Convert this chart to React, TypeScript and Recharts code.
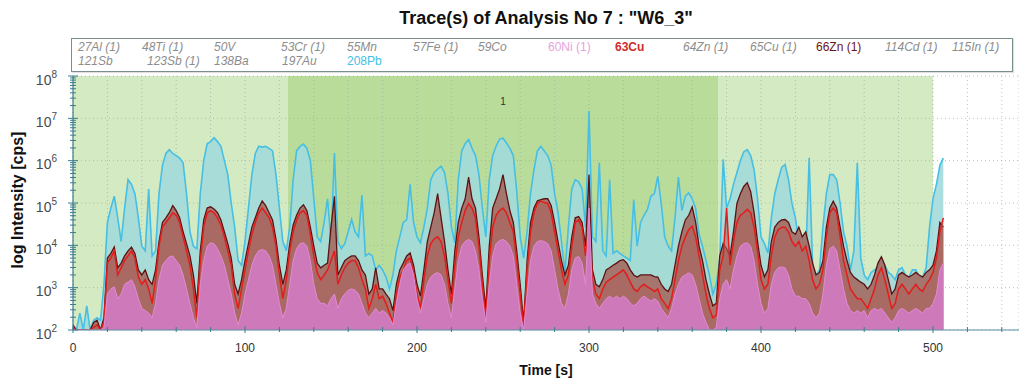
import React from 'react';
import { ComposedChart, Area, XAxis, YAxis, CartesianGrid, ReferenceArea, Label } from 'recharts';

// Sampling times [s]
const timeS = [
  0, 2, 4, 6, 8, 10, 12, 14, 16, 18,
  20, 22, 24, 26, 28, 30, 32, 34, 36, 38,
  40, 42, 44, 46, 48, 50, 52, 54, 56, 58,
  60, 62, 64, 66, 68, 70, 72, 74, 76, 78,
  80, 82, 84, 86, 88, 90, 92, 94, 96, 98,
  100, 102, 104, 106, 108, 110, 112, 114, 116, 118,
  120, 122, 124, 126, 128, 130, 132, 134, 136, 138,
  140, 142, 144, 146, 148, 150, 152, 154, 156, 158,
  160, 162, 164, 166, 168, 170, 172, 174, 176, 178,
  180, 182, 184, 186, 188, 190, 192, 194, 196, 198,
  200, 202, 204, 206, 208, 210, 212, 214, 216, 218,
  220, 222, 224, 226, 228, 230, 232, 234, 236, 238,
  240, 242, 244, 246, 248, 250, 252, 254, 256, 258,
  260, 262, 264, 266, 268, 270, 272, 274, 276, 278,
  280, 282, 284, 286, 288, 290, 292, 294, 296, 298,
  300, 302, 304, 306, 308, 310, 312, 314, 316, 318,
  320, 322, 324, 326, 328, 330, 332, 334, 336, 338,
  340, 342, 344, 346, 348, 350, 352, 354, 356, 358,
  360, 362, 364, 366, 368, 370, 372, 374, 376, 378,
  380, 382, 384, 386, 388, 390, 392, 394, 396, 398,
  400, 402, 404, 406, 408, 410, 412, 414, 416, 418,
  420, 422, 424, 426, 428, 430, 432, 434, 436, 438,
  440, 442, 444, 446, 448, 450, 452, 454, 456, 458,
  460, 462, 464, 466, 468, 470, 472, 474, 476, 478,
  480, 482, 484, 486, 488, 490, 492, 494, 496, 498,
  500, 502, 504, 506,
];

// Intensities, as log10(cps)
const pb208Log = [
  2.0, 2.0, 2.40, 2.0, 2.57, 2.0, 2.23, 2.29, 2.23, 3.08,
  4.54, 4.88, 5.16, 4.65, 4.09, 4.88, 5.55, 5.44, 5.22, 4.65,
  3.98, 3.87, 5.33, 3.75, 3.87, 5.22, 5.89, 6.17, 6.26, 6.17,
  6.12, 6.06, 5.95, 5.22, 4.32, 3.98, 3.92, 5.22, 6.00, 6.40,
  6.45, 6.54, 6.45, 6.34, 6.00, 5.67, 4.99, 4.43, 3.64, 3.53,
  4.09, 4.88, 5.67, 6.17, 6.34, 6.32, 6.34, 6.29, 6.23, 5.67,
  4.88, 4.09, 3.87, 4.43, 5.55, 6.23, 6.34, 6.39, 6.29, 6.00,
  5.10, 4.20, 4.09, 4.54, 5.10, 4.09, 6.18, 4.09, 3.92, 4.04,
  4.32, 4.61, 4.32, 4.20, 5.19, 3.75, 3.81, 3.75, 3.42, 3.53,
  3.42, 3.25, 2.97, 3.30, 3.87, 4.20, 4.54, 4.60, 5.44, 4.54,
  4.20, 4.06, 4.43, 4.88, 5.55, 5.72, 5.80, 5.87, 5.72, 5.22,
  4.43, 4.06, 5.55, 6.23, 6.40, 6.50, 6.29, 6.12, 5.67, 4.88,
  4.20, 5.55, 6.12, 6.34, 6.51, 6.53, 6.42, 6.29, 6.12, 5.27,
  4.20, 3.70, 4.32, 5.22, 5.78, 6.23, 6.34, 6.23, 6.12, 5.89,
  5.22, 4.77, 4.09, 3.36, 4.43, 5.33, 5.55, 5.50, 5.33, 4.43,
  7.17, 4.20, 4.09, 5.95, 3.87, 3.75, 5.55, 3.81, 3.87, 3.81,
  3.75, 3.70, 3.64, 5.08, 3.98, 4.54, 4.71, 4.85, 5.16, 5.22,
  5.63, 4.99, 4.20, 3.98, 3.87, 4.65, 5.61, 4.82, 5.16, 5.24,
  5.10, 4.88, 4.26, 3.98, 3.64, 3.30, 2.85, 3.08, 3.64, 6.03,
  4.88, 5.10, 5.44, 5.72, 6.00, 6.21, 6.26, 6.12, 5.78, 5.10,
  4.20, 4.04, 3.82, 4.65, 5.22, 5.55, 5.84, 5.91, 5.55, 4.99,
  4.65, 4.09, 4.20, 3.70, 6.07, 3.53, 3.30, 3.42, 4.43, 5.22,
  5.67, 5.67, 5.55, 4.99, 4.32, 3.98, 3.42, 3.87, 5.95, 3.70,
  3.30, 3.19, 3.36, 3.42, 3.47, 3.70, 3.53, 3.36, 3.30, 3.19,
  3.42, 3.47, 3.30, 3.25, 3.42, 3.42, 3.25, 3.25, 3.47, 4.43,
  5.10, 5.44, 5.89, 6.06,
];

const zn66Log = [
  2.12, 2.0, 2.0, 2.0, 2.0, 2.0, 2.18, 2.23, 2.0, 2.29,
  3.70, 3.81, 3.96, 3.47, 3.58, 3.75, 3.87, 3.96, 3.81, 3.42,
  3.30, 3.42, 3.19, 3.08, 3.42, 4.09, 4.54, 4.65, 4.77, 4.94,
  4.82, 4.65, 4.32, 4.04, 3.75, 3.30, 2.63, 3.87, 4.60, 4.88,
  4.91, 4.86, 4.77, 4.60, 4.32, 4.04, 3.70, 3.08, 2.85, 3.19,
  3.64, 4.04, 4.43, 4.65, 4.88, 5.05, 4.94, 4.77, 4.60, 4.15,
  3.53, 3.08, 3.42, 4.04, 4.48, 4.71, 4.88, 4.96, 4.82, 4.43,
  3.98, 3.58, 3.47, 3.53, 3.58, 4.43, 5.16, 3.30, 3.47, 3.64,
  3.70, 3.75, 3.75, 3.64, 3.42, 3.30, 2.85, 2.97, 3.47, 2.97,
  2.97, 2.85, 2.74, 2.46, 3.08, 3.42, 3.58, 3.75, 3.82, 3.53,
  3.08, 2.80, 3.42, 4.09, 4.43, 4.77, 5.22, 4.65, 4.09, 3.42,
  2.85, 3.87, 4.54, 4.88, 5.10, 5.61, 5.10, 4.88, 4.20, 3.30,
  2.51, 3.98, 4.88, 5.10, 5.33, 5.67, 5.22, 4.82, 4.54, 3.87,
  3.08, 2.18, 3.64, 4.54, 4.88, 5.05, 5.08, 5.10, 5.10, 4.94,
  4.54, 4.09, 3.64, 3.30, 3.53, 4.20, 4.65, 4.68, 4.54, 3.98,
  5.67, 3.42, 3.08, 3.02, 3.19, 3.42, 3.47, 3.53, 3.58, 3.64,
  3.66, 3.58, 3.42, 3.30, 3.25, 3.30, 3.30, 3.30, 3.30, 3.26,
  3.25, 3.08, 2.97, 2.91, 3.08, 3.53, 3.98, 4.32, 4.60, 4.71,
  4.91, 4.54, 3.98, 3.64, 3.19, 2.85, 2.57, 2.63, 3.75, 4.04,
  3.92, 3.75, 4.32, 4.99, 5.22, 5.39, 5.48, 5.27, 4.77, 4.09,
  3.53, 3.26, 3.42, 4.09, 4.43, 4.54, 4.60, 4.61, 4.54, 4.32,
  4.26, 4.43, 4.20, 4.32, 3.98, 3.58, 3.30, 3.36, 3.64, 4.43,
  4.88, 5.04, 4.88, 4.43, 3.98, 3.64, 3.36, 3.25, 3.19, 3.13,
  3.08, 2.97, 3.08, 3.30, 3.58, 3.73, 3.53, 3.19, 2.85, 2.97,
  3.30, 3.36, 3.30, 3.25, 3.30, 3.36, 3.30, 3.25, 3.36, 3.42,
  3.53, 3.87, 4.54, 4.43,
];

const cu63Log = [
  2.06, 2.0, 2.0, 2.0, 2.0, 2.0, 2.06, 2.12, 2.0, 2.18,
  3.58, 3.70, 3.87, 3.30, 3.47, 3.64, 3.75, 3.87, 3.70, 3.25,
  3.08, 3.19, 2.97, 2.63, 3.19, 3.98, 4.43, 4.54, 4.65, 4.77,
  4.71, 4.54, 4.20, 3.87, 3.53, 2.97, 2.29, 3.64, 4.43, 4.77,
  4.82, 4.77, 4.65, 4.48, 4.20, 3.87, 3.53, 2.85, 2.51, 2.97,
  3.42, 3.87, 4.26, 4.54, 4.77, 4.88, 4.77, 4.65, 4.43, 3.98,
  3.30, 2.74, 3.19, 3.87, 4.32, 4.60, 4.77, 4.82, 4.71, 4.26,
  3.75, 3.36, 3.19, 3.30, 3.42, 3.64, 3.87, 3.08, 3.30, 3.47,
  3.58, 3.64, 3.64, 3.47, 3.19, 2.97, 2.51, 2.74, 3.08, 2.74,
  2.80, 2.63, 2.40, 2.18, 2.85, 3.25, 3.42, 3.64, 3.70, 3.36,
  2.85, 2.51, 3.19, 3.75, 4.04, 4.15, 4.20, 4.09, 3.75, 3.19,
  2.63, 3.53, 4.20, 4.54, 4.82, 4.99, 4.88, 4.65, 3.98, 3.08,
  2.29, 3.64, 4.43, 4.71, 4.82, 4.88, 4.77, 4.54, 4.32, 3.64,
  2.85, 2.06, 3.42, 4.32, 4.77, 4.99, 5.05, 5.01, 4.99, 4.77,
  4.32, 3.87, 3.42, 3.08, 3.30, 3.98, 4.54, 4.60, 4.43, 3.75,
  4.43, 3.19, 2.85, 2.74, 2.97, 3.13, 3.19, 3.25, 3.30, 3.36,
  3.42, 3.30, 3.13, 2.97, 2.91, 3.02, 3.08, 3.02, 2.97, 2.91,
  2.97, 2.74, 2.63, 2.51, 2.74, 3.19, 3.64, 3.98, 4.20, 4.37,
  4.45, 4.20, 3.75, 3.30, 2.85, 2.51, 2.29, 2.35, 3.42, 3.75,
  4.88, 3.53, 4.09, 4.54, 4.71, 4.77, 4.85, 4.77, 4.43, 3.87,
  3.19, 2.97, 3.08, 3.75, 4.20, 4.37, 4.43, 4.43, 4.32, 4.09,
  3.98, 4.09, 3.87, 3.98, 3.64, 3.19, 2.97, 3.08, 3.42, 4.20,
  4.77, 4.88, 4.77, 4.20, 3.64, 3.30, 2.97, 2.85, 2.74, 2.74,
  2.63, 2.51, 2.74, 2.97, 3.30, 3.47, 3.19, 2.85, 2.51, 2.63,
  2.97, 3.08, 2.97, 2.85, 2.97, 3.08, 2.97, 2.91, 3.08, 3.19,
  3.36, 3.70, 4.32, 4.65,
];

const ni60Log = [
  2.0, 2.0, 2.0, 2.0, 2.0, 2.0, 2.0, 2.0, 2.0, 2.06,
  2.85, 2.97, 3.02, 2.74, 2.85, 3.08, 3.13, 3.19, 3.02, 2.74,
  2.51, 2.46, 2.40, 2.29, 2.63, 3.19, 3.53, 3.64, 3.73, 3.75,
  3.64, 3.53, 3.30, 2.97, 2.63, 2.29, 2.06, 3.08, 3.64, 3.98,
  4.06, 4.04, 3.92, 3.75, 3.53, 3.19, 2.85, 2.40, 2.12, 2.40,
  2.85, 3.19, 3.53, 3.75, 3.87, 3.90, 3.87, 3.75, 3.53, 3.08,
  2.63, 2.29, 2.51, 3.08, 3.64, 3.92, 4.04, 4.06, 3.98, 3.64,
  3.08, 2.74, 2.63, 2.63, 2.57, 2.74, 2.85, 2.51, 2.74, 2.85,
  2.94, 2.97, 2.94, 2.85, 2.63, 2.40, 2.29, 2.40, 2.51, 2.40,
  2.46, 2.40, 2.29, 2.12, 2.63, 3.08, 3.42, 3.53, 3.58, 3.30,
  2.74, 2.40, 2.74, 3.08, 3.25, 3.32, 3.36, 3.30, 3.08, 2.63,
  2.29, 2.97, 3.64, 3.98, 4.09, 4.14, 4.09, 3.87, 3.42, 2.74,
  2.18, 3.08, 3.75, 4.04, 4.11, 4.14, 4.09, 3.98, 3.75, 3.08,
  2.40, 2.0, 2.85, 3.64, 3.98, 4.09, 4.11, 4.09, 4.04, 3.87,
  3.42, 2.97, 2.63, 2.51, 2.85, 3.42, 3.70, 3.74, 3.58, 3.08,
  4.88, 2.85, 2.63, 2.51, 2.63, 2.74, 2.80, 2.74, 2.80, 2.74,
  2.80, 2.74, 2.63, 2.57, 2.63, 2.74, 2.80, 2.74, 2.68, 2.74,
  2.68, 2.51, 2.40, 2.29, 2.51, 2.85, 3.08, 3.25, 3.30, 3.35,
  3.30, 3.08, 2.74, 2.40, 2.18, 2.01, 2.0, 2.06, 2.74, 3.08,
  3.19, 2.97, 3.42, 3.75, 3.98, 4.04, 4.06, 3.98, 3.64, 3.08,
  2.63, 2.40, 2.51, 3.08, 3.36, 3.47, 3.49, 3.47, 3.30, 2.97,
  2.80, 2.80, 2.74, 2.74, 2.63, 2.40, 2.29, 2.40, 2.85, 3.53,
  3.92, 3.98, 3.87, 3.42, 2.97, 2.63, 2.46, 2.40, 2.46, 2.40,
  2.46, 2.29, 2.46, 2.51, 2.46, 2.51, 2.40, 2.29, 2.18, 2.29,
  2.46, 2.51, 2.46, 2.40, 2.46, 2.51, 2.46, 2.40, 2.51, 2.51,
  2.63, 2.85, 3.42, 3.58,
];

// Axis ticks
const yMajorTicks = [1e2, 1e3, 1e4, 1e5, 1e6, 1e7, 1e8];
const yMinorFactors = [2, 3, 4, 5, 6, 7, 8, 9];
const xTicks = [0, 20, 40, 60, 80, 100, 120, 140, 160, 180, 200, 220, 240, 260, 280, 300, 320, 340, 360, 380, 400, 420, 440, 460, 480, 500, 520, 540];
const xLabels = [0, 100, 200, 300, 400, 500];

// Signal regions [s]
const gasRegion = [0, 500];
const sampleRegion = [125, 375];
const sampleLabel = '1';

// Legend
const legendRow1 = ['27Al (1)', '48Ti (1)', '50V', '53Cr (1)', '55Mn', '57Fe (1)', '59Co', '60Ni (1)', '63Cu', '64Zn (1)', '65Cu (1)', '66Zn (1)', '114Cd (1)', '115In (1)'];
const legendRow2 = ['121Sb', '123Sb (1)', '138Ba', '197Au', '208Pb'];
const legendX1 = [78, 142, 214, 281, 347, 413, 478, 548, 615, 683, 750, 816, 885, 952];
const legendX2 = [78, 147, 214, 282, 347];
const activeStyle: Record<string, React.CSSProperties> = {
  '60Ni (1)': { color: '#e6a3d9', fontStyle: 'normal' },
  '63Cu': { color: '#cf2d2d', fontStyle: 'normal', fontWeight: 600 },
  '66Zn (1)': { color: '#6b1414', fontStyle: 'normal' },
  '208Pb': { color: '#3fc1e4', fontStyle: 'normal' },
};

const yTicks = [
  ...yMajorTicks,
  ...yMajorTicks.slice(0, -1).flatMap((d) => yMinorFactors.map((f) => f * d)),
].sort((a, b) => a - b);

const data = timeS.map((t, i) => ({
  t,
  pb208: Math.pow(10, pb208Log[i]),
  zn66: Math.pow(10, zn66Log[i]),
  cu63: Math.pow(10, cu63Log[i]),
  ni60: Math.pow(10, ni60Log[i]),
}));

const AXIS = '#3b7c8c';

const YTick = (props: any) => {
  const { x, y, payload } = props;
  const v = payload.value as number;
  const exp = Math.round(Math.log10(v));
  const major = Math.abs(v - Math.pow(10, exp)) < v * 1e-6;
  const len = major ? 5 : 3;
  return (
    <g>
      <line x1={x - len} x2={x + len} y1={y} y2={y} stroke={AXIS} strokeWidth={1} />
      {major && (
        <text x={x - 16} y={y + 8.5} textAnchor="end" fontSize={14} fill="#4a4a4a" fontFamily="Arial, 'Liberation Sans', sans-serif">
          10<tspan dy={-7} fontSize={10}>{exp}</tspan>
        </text>
      )}
    </g>
  );
};

const XTick = (props: any) => {
  const { x, y, payload } = props;
  const major = xLabels.includes(payload.value);
  return (
    <g>
      <line x1={x} x2={x} y1={y - (major ? 4 : 3)} y2={y + (major ? 3 : 2)} stroke={AXIS} strokeWidth={1} />
      {major && (
        <text x={x} y={y + 22} textAnchor="middle" fontSize={12} fill="#333" fontFamily="Arial, 'Liberation Sans', sans-serif">
          {payload.value}
        </text>
      )}
    </g>
  );
};

const TopTick = (props: any) => {
  const { x, y, payload } = props;
  const major = xLabels.includes(payload.value);
  return <line x1={x} x2={x} y1={y} y2={y + (major ? 4 : 3)} stroke={AXIS} strokeWidth={1} />;
};

const legendItem = (name: string, left: number, top: number) => (
  <div
    key={name + top}
    style={{
      position: 'absolute',
      left,
      top,
      fontSize: 12,
      lineHeight: '14px',
      fontStyle: 'italic',
      color: '#8d8d8d',
      whiteSpace: 'nowrap',
      ...(activeStyle[name] || {}),
    }}
  >
    {name}
  </div>
);

export default function App() {
  return (
    <div
      style={{
        position: 'absolute',
        left: 0,
        top: 0,
        width: 1019,
        height: 381,
        background: '#ffffff',
        overflow: 'hidden',
        fontFamily: "Arial, 'Liberation Sans', sans-serif",
      }}
    >
      <ComposedChart
        width={1019}
        height={381}
        data={data}
        margin={{ top: 76, right: 0, bottom: 0, left: 13 }}
      >
        <XAxis
          dataKey="t"
          type="number"
          domain={[0, 550]}
          ticks={xTicks}
          interval={0}
          height={51}
          tick={<XTick />}
          tickSize={0}
          tickMargin={0}
          tickLine={false}
          axisLine={{ stroke: '#5a8fa6', strokeWidth: 1.2 }}
          allowDataOverflow
        />
        <XAxis
          xAxisId="top"
          orientation="top"
          dataKey="t"
          type="number"
          domain={[0, 550]}
          ticks={xTicks}
          interval={0}
          height={0}
          tick={<TopTick />}
          tickSize={0}
          tickMargin={0}
          tickLine={false}
          axisLine={false}
        />
        <YAxis
          scale="log"
          domain={[100, 1e8]}
          ticks={yTicks}
          interval={0}
          width={60}
          tick={<YTick />}
          tickSize={0}
          tickMargin={0}
          tickLine={false}
          axisLine={{ stroke: AXIS, strokeWidth: 1.2 }}
          allowDataOverflow
        />
        <YAxis yAxisId="dec" scale="log" domain={[100, 1e8]} ticks={yMajorTicks} interval={0} hide allowDataOverflow />
        <ReferenceArea x1={gasRegion[0]} x2={gasRegion[1]} fill="#d4eac3" fillOpacity={1} stroke="none" zIndex={-300} ifOverflow="hidden" />
        <ReferenceArea x1={sampleRegion[0]} x2={sampleRegion[1]} fill="#b9dc9b" fillOpacity={1} stroke="none" zIndex={-250} ifOverflow="hidden">
          <Label value={sampleLabel} position="insideTop" offset={22} fontSize={10} fill="#333" />
        </ReferenceArea>
        <CartesianGrid
          yAxisId="dec"
          stroke="#8fb0b0"
          strokeOpacity={0.7}
          strokeDasharray="1 3"
          zIndex={-100}
        />
        <Area
          type="linear"
          dataKey="pb208"
          name="208Pb"
          stroke="#46bfe3"
          strokeWidth={1.6}
          fill="#a3dadb"
          fillOpacity={0.9}
          dot={false}
          activeDot={false}
          isAnimationActive={false}
        />
        <Area
          type="linear"
          dataKey="zn66"
          name="66Zn (1)"
          stroke="#5c1212"
          strokeWidth={1.3}
          fill="#a46e65"
          fillOpacity={0.92}
          dot={false}
          activeDot={false}
          isAnimationActive={false}
        />
        <Area
          type="linear"
          dataKey="cu63"
          name="63Cu"
          stroke="#e31c1c"
          strokeWidth={1.5}
          fill="#ad635b"
          fillOpacity={0.6}
          dot={false}
          activeDot={false}
          isAnimationActive={false}
        />
        <Area
          type="linear"
          dataKey="ni60"
          name="60Ni (1)"
          stroke="#e38ad6"
          strokeWidth={1}
          fill="#d07abf"
          fillOpacity={0.95}
          dot={false}
          activeDot={false}
          isAnimationActive={false}
        />
      </ComposedChart>

      <div
        style={{
          position: 'absolute',
          left: 73,
          width: 946,
          top: 8,
          textAlign: 'center',
          fontSize: 18,
          fontWeight: 'bold',
          lineHeight: '20px',
          color: '#111',
        }}
      >
        {'Trace(s) of Analysis No 7 : "W6_3"'}
      </div>

      <div
        style={{
          position: 'absolute',
          left: 71,
          top: 38,
          width: 940,
          height: 32,
          border: '1px solid #7b8e8e',
          background: '#ffffff',
          boxShadow: '1px 1px 1px rgba(0,0,0,0.12)',
        }}
      />
      {legendRow1.map((n, i) => legendItem(n, legendX1[i], 40))}
      {legendRow2.map((n, i) => legendItem(n, legendX2[i], 54))}

      <div
        style={{
          position: 'absolute',
          left: 18,
          top: 200,
          transform: 'translate(-50%, -50%) rotate(-90deg)',
          whiteSpace: 'nowrap',
          fontSize: 16,
          fontWeight: 'bold',
          color: '#111',
        }}
      >
        log Intensity [cps]
      </div>
      <div
        style={{
          position: 'absolute',
          left: 546,
          top: 370,
          transform: 'translate(-50%, -50%)',
          whiteSpace: 'nowrap',
          fontSize: 14,
          fontWeight: 'bold',
          color: '#111',
        }}
      >
        Time [s]
      </div>
    </div>
  );
}
